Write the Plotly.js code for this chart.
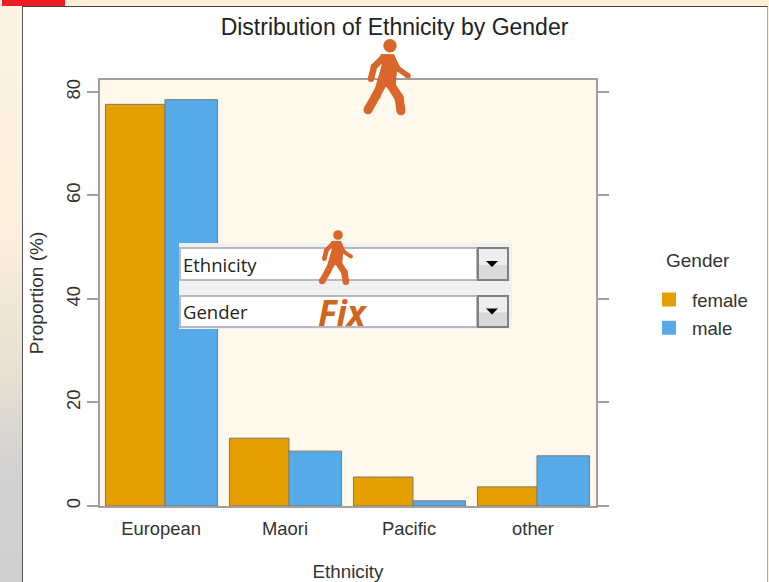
<!DOCTYPE html>
<html><head><meta charset="utf-8">
<script src="https://cdn.plot.ly/plotly-3.0.1.min.js"></script>
<style>
html,body{margin:0;padding:0;width:769px;height:582px;overflow:hidden;background:#fbf0d6}
#bgl{position:absolute;left:0;top:6px;width:22px;height:576px;background:linear-gradient(180deg,#fdf4e2 0%,#fbeedd 40%,#e6dfd2 65%,#d2d2d2 80%,#cfcfcf 100%)}
#panel{position:absolute;left:22px;top:6px;width:744px;height:576px;background:#fff;border-left:1px solid #555;border-top:1px solid #444;border-right:1px solid #aaa;box-sizing:content-box}
#red{position:absolute;left:2px;top:0;width:63px;height:6px;background:#ee1c25}
#chart{position:absolute;left:0;top:0;width:769px;height:582px}
</style></head><body>
<div id="bgl"></div><div id="panel"></div><div id="red"></div><div id="chart"></div>
<script>
const categories = ["European","Maori","Pacific","other"];
const catPositions = [0,1,2,3];
const female = [77.6,13.1,5.6,3.7];
const male = [78.5,10.6,1.0,9.7];
const yTicks = [0,20,40,60,80];
const femaleColor='#e69f00', maleColor='#56aae8';
const W=769,H=582,ML=100,MR=173,MT=80,MB=76;
const px=x=>(x-ML)/(W-ML-MR), py=y=>1-(y-MT)/(H-MT-MB);
const rect=(x0,y0,x1,y1,fill,line,lw)=>({type:'rect',xref:'paper',yref:'paper',x0:px(x0),x1:px(x1),y0:py(y1),y1:py(y0),fillcolor:fill,line:{color:line||fill,width:lw===undefined?0:lw},layer:'above'});
const P=(pts,close)=>pts.map((p,i)=>(i?'L':'M')+px(p[0]).toFixed(5)+','+py(p[1]).toFixed(5)).join(' ')+(close?' Z':'');
const pathS=(pts,close,fill,line,lw)=>({type:'path',xref:'paper',yref:'paper',path:P(pts,close),fillcolor:fill||'rgba(0,0,0,0)',line:{color:line||'rgba(0,0,0,0)',width:lw||0},layer:'above'});
const orange='#d9662a';
const dot=(x,y,r)=>({type:'circle',xref:'paper',yref:'paper',x0:px(x-r),x1:px(x+r),y0:py(y+r),y1:py(y-r),fillcolor:orange,line:{width:0},layer:'above'});
function walker(cx,cy,s){
  const m=a=>a.map(p=>[cx+p[0]*s,cy+p[1]*s]);
  const limb=(pts,w)=>{const q=m(pts);return [pathS(q,false,null,orange,w*s),...q.map(p=>dot(p[0],p[1],w*s/2))];};
  return [
    dot(cx,cy,6.7*s),
    pathS(m([[-9,9],[4,9],[7,20],[5,41],[-14,41],[-8,20]]),true,orange,orange,1),
    ...limb([[-7,12],[-16,21],[-19,33]],6.5),
    ...limb([[3,13],[8,23],[18,30]],5.5),
    ...limb([[-9,40],[-14,50],[-22,64]],9),
    ...limb([[0,38],[9,52],[11,65]],9)
  ];
}
function combo(y0,y1){
  const ym=(y0+y1)/2;
  return [
    rect(180,y0,477,y1,'#ffffff','#b8b8c0',2),
    rect(478,y0,508,y1,'#eeeeee','#808080',2),
    rect(479,ym+1,507,y1-1,'#d9d9d9'),
    pathS([[486,ym-3],[498,ym-3],[492,ym+3]],true,'#000000')
  ];
}
const shapes=[
  rect(179,243,512,329,'#f0f0f0'),
  ...combo(248,280),
  ...combo(296,327),
  ...walker(390,45.7,1),
  ...walker(338,235,0.72)
];
const txt=(x,y,t,size,color,family)=>({xref:'paper',yref:'paper',x:px(x),y:py(y),text:t,showarrow:false,xanchor:'left',yanchor:'middle',font:{size,color,family}});
const annotations=[
  txt(181,264,'Ethnicity',18.5,'#222','Open Sans'),
  txt(181,311,'Gender',18.5,'#222','Open Sans'),
  txt(316,312,'<b><i>Fix</i></b>',35,'#d0651c','Open Sans'),
  txt(664,260,'Gender',19,'#333','Liberation Sans')
];
const font='Liberation Sans';
const bar=(name,y,offset,width,color)=>({type:'bar',name,x:catPositions,y,offset,width,showlegend:false,marker:{color,line:{color:'#7d7d6d',width:1}}});
const key=(name,color)=>({type:'bar',name,x:[null],y:[null],legendgroup:name,marker:{color,line:{color,width:2}}});
Plotly.newPlot('chart',[
  bar('female',female,-0.448,0.48,femaleColor),
  bar('male',male,0.032,0.424,maleColor),
  key('female',femaleColor),
  key('male',maleColor)
],{
  width:W,height:H,margin:{l:ML,r:MR,t:MT,b:MB,pad:0,autoexpand:false},
  paper_bgcolor:'rgba(0,0,0,0)',plot_bgcolor:'#fef8ed',
  font:{family:font,color:'#333',size:18},
  barmode:'overlay',
  title:{text:'Distribution of Ethnicity by Gender',font:{size:23,color:'#222'},x:394.5/W,xanchor:'center',y:1-27/H,yanchor:'middle'},
  xaxis:{range:[-0.492,3.508],tickmode:'array',tickvals:catPositions,ticktext:categories,ticks:'outside',ticklen:5,tickcolor:'rgba(0,0,0,0)',showgrid:false,zeroline:false,showline:true,mirror:true,linecolor:'#a0a0a0',linewidth:2,tickfont:{size:18.4,color:'#333'},title:{text:'Ethnicity',font:{size:18.8,color:'#333'},standoff:30}},
  yaxis:{range:[0,82.3],tickmode:'array',tickvals:yTicks,ticktext:yTicks.map(String),ticks:'outside',ticklen:11,tickcolor:'#a0a0a0',tickwidth:2,tickangle:-90,showgrid:false,zeroline:false,showline:true,mirror:'allticks',linecolor:'#a0a0a0',linewidth:2,tickfont:{size:18.4,color:'#333'},title:{text:'Proportion (%)',font:{size:19,color:'#333'},standoff:14}},
  legend:{x:px(646),xanchor:'left',y:py(281),yanchor:'top',itemwidth:36,font:{size:18.6,color:'#333'},bgcolor:'rgba(0,0,0,0)',tracegroupgap:1,itemclick:false,itemdoubleclick:false},
  shapes,annotations
},{displayModeBar:false,staticPlot:true});
</script>
</body></html>
